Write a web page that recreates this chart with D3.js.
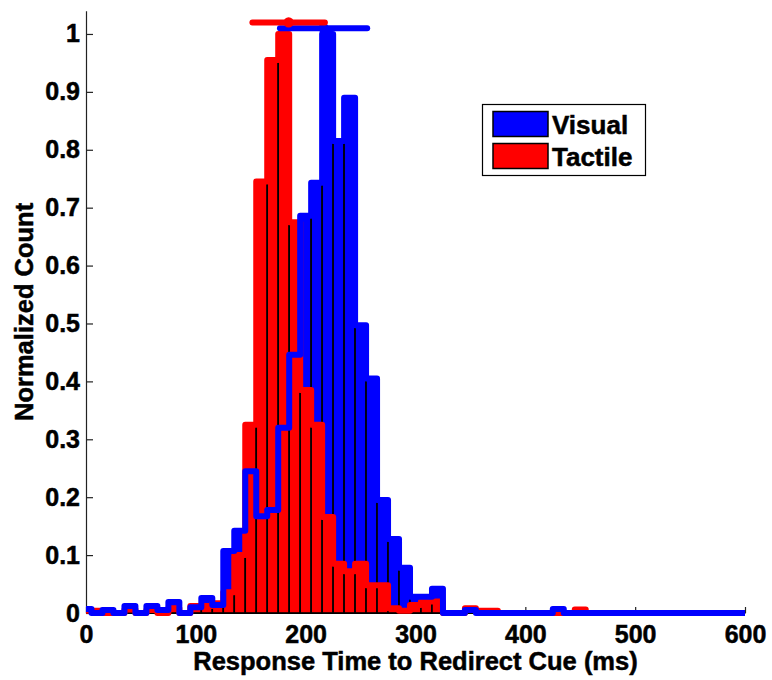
<!DOCTYPE html>
<html>
<head>
<meta charset="utf-8">
<script src="https://cdn.jsdelivr.net/npm/d3@7"></script>
<style>
  body { margin: 0; background: #fff; }
  text { font-family: "Liberation Sans", Arial, sans-serif; font-weight: bold; fill: #000;
         stroke: #000; stroke-width: 0.5px; }
</style>
</head>
<body>
<svg id="chart" width="772" height="680"></svg>
<script>
// histogram bins, centred every 10 ms (0..600)
const binCenters = d3.range(0, 601, 10);
const binWidth = 10;

// normalized counts, one per bin
const visualCounts = [
  0.007, 0, 0.005, 0, 0.012, 0, 0.012, 0.005, 0.019, 0,
  0.010, 0.026, 0.014, 0.107, 0.142, 0.245, 0.167, 0.178, 0.320, 0.446,
  0.686, 0.743, 1.000, 0.815, 0.890, 0.497, 0.405, 0.195, 0.128, 0.078,
  0.028, 0.028, 0.042, 0, 0, 0.005, 0, 0, 0, 0,
  0, 0, 0, 0.007, 0, 0, 0, 0, 0, 0,
  0, 0, 0, 0, 0, 0, 0, 0, 0, 0,
  0
];
const tactileCounts = [
  0.004, 0.004, 0, 0, 0.006, 0, 0.005, 0, 0.008, 0,
  0.012, 0.012, 0.017, 0.036, 0.100, 0.325, 0.745, 0.955, 1.000, 0.675,
  0.385, 0.325, 0.166, 0.085, 0.072, 0.085, 0.048, 0.048, 0.008, 0.004,
  0.014, 0.020, 0.020, 0, 0, 0.008, 0.004, 0.004, 0, 0,
  0, 0, 0, 0, 0, 0.006, 0, 0, 0, 0,
  0, 0, 0, 0, 0, 0, 0, 0, 0, 0,
  0
];

// mean +/- sd bars drawn above the histograms
const seriesNames = ["Visual", "Tactile"];
const seriesColors = ["#0000ff", "#ff0000"];
const seriesMeans = [216.3, 184.5];
const seriesSds = [39.7, 33.0];
const seriesLevels = [1.01, 1.02];

const xTicks = [0, 100, 200, 300, 400, 500, 600];
const yTicks = [0, 0.1, 0.2, 0.3, 0.4, 0.5, 0.6, 0.7, 0.8, 0.9, 1];

const svg = d3.select("#chart");
const plotLeft = 86, plotRight = 745, plotTop = 10.8, plotBottom = 613;

const x = d3.scaleLinear().domain([0, 600]).range([plotLeft, plotRight]);
const y = d3.scaleLinear().domain([0, 1.04]).range([plotBottom, plotTop]);

svg.append("defs").append("clipPath").attr("id", "plotclip")
  .append("rect").attr("x", plotLeft).attr("y", 0).attr("width", plotRight - plotLeft).attr("height", 680);

// axes (underneath the bars, like the original)
const yAxis = svg.append("g").attr("transform", `translate(${plotLeft},0)`)
  .call(d3.axisLeft(y).tickValues(yTicks).tickFormat(d3.format("~g"))
    .tickSizeInner(-7).tickSizeOuter(0).tickPadding(6));
const xAxis = svg.append("g").attr("transform", `translate(0,${plotBottom})`)
  .call(d3.axisBottom(x).tickValues(xTicks).tickFormat(d3.format("d"))
    .tickSizeInner(-6).tickSizeOuter(0).tickPadding(12));
[yAxis, xAxis].forEach(g => {
  g.select(".domain").attr("stroke", "#222").attr("stroke-width", 1.2);
  g.selectAll(".tick line").attr("stroke", "#222").attr("stroke-width", 1.2);
  g.selectAll("text").style("font-size", "25px").attr("fill", "#000");
});
xAxis.selectAll("text").attr("y", 12).attr("dy", "0.71em");

const plot = svg.append("g").attr("clip-path", "url(#plotclip)");

function bars(counts, color) {
  const data = binCenters.map((c, i) => ({c, v: counts[i]})).filter(d => d.v > 0);
  plot.append("g")
    .selectAll("rect")
    .data(data)
    .join("rect")
    .attr("x", d => x(d.c - binWidth / 2))
    .attr("width", d => x(d.c + binWidth / 2) - x(d.c - binWidth / 2))
    .attr("y", d => y(d.v))
    .attr("height", d => y(0) - y(d.v))
    .attr("fill", color)
    .attr("stroke", "#000")
    .attr("stroke-width", 1.6);
}

function outline(counts, color) {
  const pts = [];
  binCenters.forEach((c, i) => {
    pts.push([c - binWidth / 2, counts[i]]);
    pts.push([c + binWidth / 2, counts[i]]);
  });
  plot.append("path")
    .datum(pts)
    .attr("d", d3.line().x(d => x(d[0])).y(d => y(d[1])))
    .attr("fill", "none")
    .attr("stroke", color)
    .attr("stroke-width", 6)
    .attr("stroke-linejoin", "round")
    .attr("stroke-linecap", "round");
}

bars(visualCounts, seriesColors[0]);
bars(tactileCounts, seriesColors[1]);
outline(tactileCounts, seriesColors[1]);
outline(visualCounts, seriesColors[0]);

// mean +/- sd
seriesNames.forEach((name, i) => {
  const g = svg.append("g");
  g.append("line")
    .attr("x1", x(seriesMeans[i] - seriesSds[i]))
    .attr("x2", x(seriesMeans[i] + seriesSds[i]))
    .attr("y1", y(seriesLevels[i]))
    .attr("y2", y(seriesLevels[i]))
    .attr("stroke", seriesColors[i])
    .attr("stroke-width", 6)
    .attr("stroke-linecap", "round");
  g.append("circle")
    .attr("cx", x(seriesMeans[i]))
    .attr("cy", y(seriesLevels[i]))
    .attr("r", 5.2)
    .attr("fill", seriesColors[i]);
});

// axis labels
svg.append("text")
  .attr("x", (plotLeft + plotRight) / 2).attr("y", 670)
  .attr("text-anchor", "middle").style("font-size", "25.5px")
  .text("Response Time to Redirect Cue (ms)");
svg.append("text")
  .attr("transform", `translate(33,${(plotTop + plotBottom) / 2}) rotate(-90)`)
  .attr("text-anchor", "middle").style("font-size", "25.5px")
  .text("Normalized Count");

// legend
const legend = svg.append("g");
legend.append("rect")
  .attr("x", 482.5).attr("y", 104.5).attr("width", 163).attr("height", 71)
  .attr("fill", "#fff").attr("stroke", "#000").attr("stroke-width", 1.2);
seriesNames.forEach((name, i) => {
  const yy = 111.5 + i * 32;
  legend.append("rect")
    .attr("x", 493).attr("y", yy).attr("width", 55).attr("height", 25)
    .attr("fill", seriesColors[i]).attr("stroke", "#000").attr("stroke-width", 1.5);
  legend.append("text")
    .attr("x", 552).attr("y", yy + 22)
    .style("font-size", "26px")
    .text(name);
});
</script>
</body>
</html>
